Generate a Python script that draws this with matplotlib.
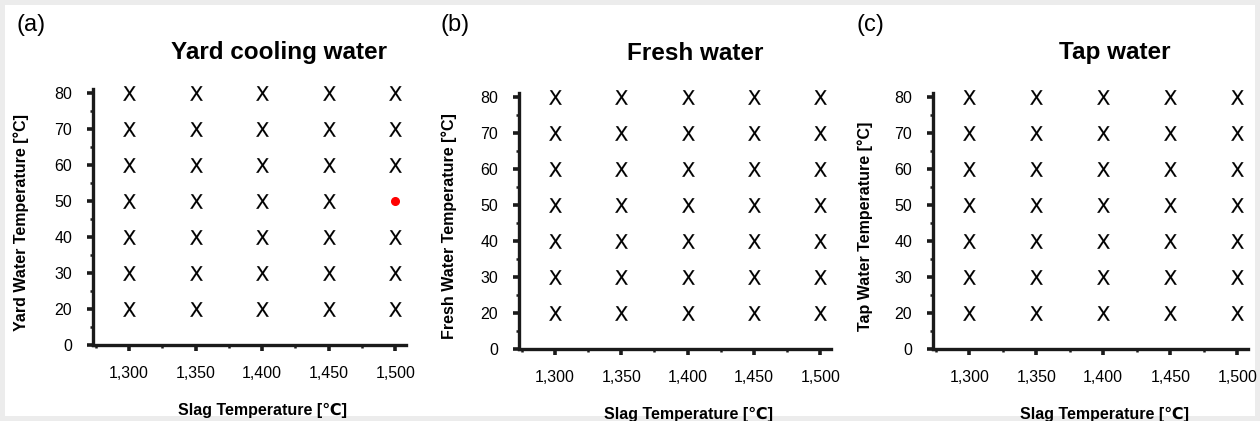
import matplotlib.pyplot as plt
from matplotlib.patches import Rectangle
from matplotlib.ticker import MultipleLocator, FixedLocator

plt.rcParams['font.family'] = ['Liberation Sans', 'DejaVu Sans']

# data
slag_temps = [1300, 1350, 1400, 1450, 1500]
water_temps = [20, 30, 40, 50, 60, 70, 80]
ytick_labels = ["0", "20", "30", "40", "50", "60", "70", "80"]
xtick_labels = ["1,300", "1,350", "1,400", "1,450", "1,500"]
panel_letters = ["(a)", "(b)", "(c)"]
titles = ["Yard cooling water", "Fresh water", "Tap water"]
ylabels = ["Yard Water Temperature [°C]", "Fresh Water Temperature [°C]",
           "Tap Water Temperature [°C]"]
# highlighted point (panel a only)
red_points = [[(1500, 50)], [], []]

fig = plt.figure(figsize=(12.6, 4.21), dpi=100)
fig.patch.set_facecolor('#ececec')
fig.add_artist(Rectangle((5 / 1260, 5 / 421), 1250 / 1260, 411 / 421,
                         transform=fig.transFigure, facecolor='white',
                         edgecolor='none', zorder=0))

# axes positions [left, bottom, width, height]
positions = [
    [93 / 1260, 76 / 421, 313 / 1260, 256 / 421],
    [519 / 1260, 72 / 421, 312 / 1260, 256 / 421],
    [933 / 1260, 72 / 421, 315 / 1260, 256 / 421],
]
title_x = [279, 695, 1115]
letter_x = [16, 440, 857]
ylabel_x = [-0.205, -0.198, -0.19]


def ypos(t):
    return ytick_labels.index(str(t))


for i in range(3):
    ax = fig.add_axes(positions[i])
    ax.set_facecolor('none')

    xs, ys = [], []
    for s in slag_temps:
        for w in water_temps:
            if (s, w) in red_points[i]:
                continue
            xs.append(s)
            ys.append(ypos(w))
    ax.plot(xs, ys, linestyle='none', marker=r'$\mathsf{X}$', ms=10.5,
            mew=0.1, color='black', clip_on=False)
    for s, w in red_points[i]:
        ax.plot([s], [ypos(w)], 'o', color='red', ms=5.5, clip_on=False)

    ax.set_xlim(1273, 1508)
    ax.set_ylim(0, 7.12)
    ax.set_xticks(slag_temps)
    ax.set_xticklabels(xtick_labels)
    ax.xaxis.set_minor_locator(FixedLocator([1275, 1325, 1375, 1425, 1475]))
    ax.set_yticks(range(len(ytick_labels)))
    ax.set_yticklabels(ytick_labels)
    ax.yaxis.set_minor_locator(MultipleLocator(0.5))

    for side in ['top', 'right']:
        ax.spines[side].set_visible(False)
    for side in ['left', 'bottom']:
        ax.spines[side].set_linewidth(2.4)
        ax.spines[side].set_color('#1a1a1a')

    ax.tick_params(which='major', direction='out', length=4, width=2.6,
                   color='#1a1a1a', labelsize=11.5, pad=11)
    ax.tick_params(which='minor', direction='out', length=2.5, width=1.8,
                   color='#1a1a1a')

    ax.set_xlabel("Slag Temperature [℃]", fontsize=11.5, fontweight='bold')
    ax.xaxis.set_label_coords(0.543, -0.225)
    ax.set_ylabel(ylabels[i], fontsize=11.5, fontweight='bold')
    ax.yaxis.set_label_coords(ylabel_x[i], 0.48)

    fig.text(title_x[i] / 1260, 1 - 53 / 421, titles[i], fontsize=17.5,
             fontweight='bold', ha='center', va='center')
    fig.text(letter_x[i] / 1260, 1 - 25 / 421, panel_letters[i], fontsize=17,
             ha='left', va='center')

fig.savefig("out.png", dpi=100, facecolor=fig.get_facecolor())
